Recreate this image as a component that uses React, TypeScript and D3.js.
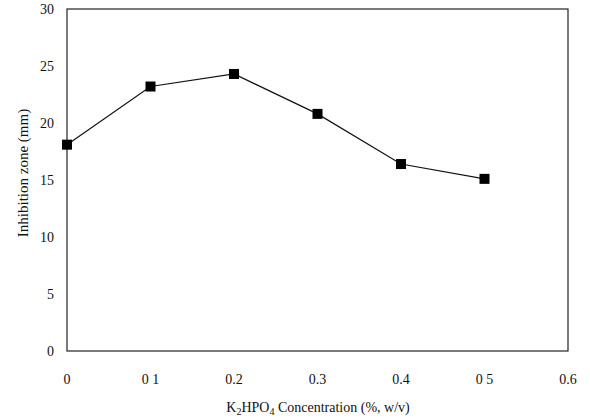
import React from 'react'
import * as d3 from 'd3'

const concentrations = [0, 0.1, 0.2, 0.3, 0.4, 0.5]
const inhibitionZone = [18.1, 23.2, 24.3, 20.8, 16.4, 15.1]
const xTicks = [0, 0.1, 0.2, 0.3, 0.4, 0.5, 0.6]
const xTickLabels = ['0', '0 1', '0.2', '0.3', '0.4', '0 5', '0.6']
const yTicks = [0, 5, 10, 15, 20, 25, 30]

const W = 590
const H = 420
const margin = {left: 67, right: 22, top: 9, bottom: 69}
const font = '"Liberation Serif", "DejaVu Serif", serif'

export default function App () {
  const x = d3.scaleLinear().domain([0, 0.6]).range([margin.left, W - margin.right])
  const y = d3.scaleLinear().domain([0, 30]).range([H - margin.bottom, margin.top])
  const line = d3.line<number>().x((d, i) => x(concentrations[i])).y(d => y(d))
  const x0 = x(0)
  const x1 = x(0.6)
  const y0 = y(0)
  const y1 = y(30)

  return (
    <svg width={W} height={H} style={{position: 'absolute', left: 0, top: 0, background: '#fff'}}>
      <rect x={x0} y={y1} width={x1 - x0} height={y0 - y1} fill='none' stroke='#222' strokeWidth={1.2} />
      {yTicks.map(t => (
        <text key={'y' + t} x={x0 - 13} y={y(t)} dy='0.35em' textAnchor='end' fontFamily={font} fontSize={14} fill='#111'>{t}</text>
      ))}
      {xTicks.map((t, i) => (
        <text key={'x' + t} x={x(t)} y={y0 + 33} textAnchor='middle' fontFamily={font} fontSize={14} fill='#111'>{xTickLabels[i]}</text>
      ))}
      <path d={line(inhibitionZone) || ''} fill='none' stroke='#111' strokeWidth={1.2} />
      {inhibitionZone.map((v, i) => (
        <rect key={i} x={x(concentrations[i]) - 5} y={y(v) - 5} width={10} height={10} fill='#000' />
      ))}
      <text x={318} y={y0 + 61} textAnchor='middle' fontFamily={font} fontSize={14} fill='#111'>
        K<tspan fontSize={10} dy={3}>2</tspan><tspan dy={-3}>HPO</tspan><tspan fontSize={10} dy={3}>4</tspan><tspan dy={-3}> Concentration (%, w/v)</tspan>
      </text>
      <text transform={`translate(28, 173) rotate(-90)`} textAnchor='middle' fontFamily={font} fontSize={15} fill='#111'>Inhibition zone (mm)</text>
    </svg>
  )
}
